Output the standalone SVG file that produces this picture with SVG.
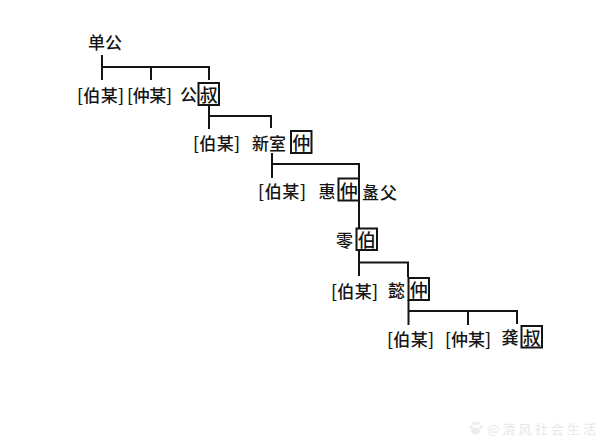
<svg xmlns="http://www.w3.org/2000/svg" width="607" height="447" viewBox="0 0 607 447">
<style>
text{font-family:"Noto Sans CJK SC","Noto Sans CJK TC",sans-serif;font-size:17px;font-weight:500;fill:#141414;dominant-baseline:central}
.n{text-anchor:middle}
.b{font-size:18px}
.box{fill:#fff;stroke:#141414;stroke-width:2}
.c path{fill:none;stroke:#141414;stroke-width:2}
.wm{font-size:13px;font-weight:400;fill:#e8e8e8}
.paw{fill:#ececec}
</style>
<rect width="607" height="447" fill="#fff"/>
<g id="connectors" class="c">
<path d="M102 55V80M102 67H209V80M151 67V80"/>
<path d="M209 105V129M209 116H271V128"/>
<path d="M272 153V178M272 164H359V228"/>
<path d="M359 250V276M359 262.500H408V277"/>
<path d="M408.500 300V325M408.500 311H517V324M468 311V325"/>
</g>
<g id="n-shangong"><text x="105" y="41" class="n" textLength="34" lengthAdjust="spacing">单公</text></g>
<g id="n-r1-bo"><text x="77" y="94" textLength="47">[伯某]</text></g>
<g id="n-r1-zhong"><text x="127" y="94" textLength="45">[仲某]</text></g>
<g id="n-gongshu"><text x="188.500" y="93" class="n">公</text><rect x="198.500" y="83" width="20.500" height="22" class="box"/><text x="208.800" y="94" class="n b">叔</text></g>
<g id="n-r2-bo"><text x="193" y="142" textLength="47">[伯某]</text></g>
<g id="n-xinshi"><text x="252" y="142" textLength="34">新室</text><rect x="291" y="131" width="20.500" height="22" class="box"/><text x="301.200" y="142" class="n b">仲</text></g>
<g id="n-r3-bo"><text x="258" y="190" textLength="48">[伯某]</text></g>
<g id="n-huizhong"><text x="327" y="190" class="n">惠</text><rect x="338.500" y="178.500" width="20.500" height="22" class="box"/><text x="348.700" y="190" class="n b">仲</text></g>
<g id="n-lifu"><text x="362" y="191" textLength="35">盠父</text></g>
<g id="n-qiubo"><text x="344.500" y="239" class="n">零</text><rect x="356.500" y="228.500" width="20.500" height="21.500" class="box"/><text x="366.700" y="239" class="n b">伯</text></g>
<g id="n-r4-bo"><text x="331" y="290" textLength="47">[伯某]</text></g>
<g id="n-yizhong"><text x="396.500" y="289" class="n">懿</text><rect x="408.500" y="278" width="20.500" height="22" class="box"/><text x="418.700" y="289" class="n b">仲</text></g>
<g id="n-r5-bo"><text x="387" y="338" textLength="47">[伯某]</text></g>
<g id="n-r5-zhong"><text x="445" y="338" textLength="46">[仲某]</text></g>
<g id="n-gongshu2"><text x="510" y="336" class="n">龚</text><rect x="521.500" y="326" width="20.500" height="21.500" class="box"/><text x="531.700" y="337" class="n b">叔</text></g>
<g id="watermark"><g class="paw"><ellipse cx="475.500" cy="431" rx="4.500" ry="3.500"/><circle cx="471" cy="427" r="1.800"/><circle cx="474" cy="423.500" r="1.800"/><circle cx="478" cy="423.500" r="1.800"/><circle cx="481" cy="427" r="1.800"/></g><text x="487" y="428" class="wm" textLength="109">@清风社会生活</text></g>
</svg>
